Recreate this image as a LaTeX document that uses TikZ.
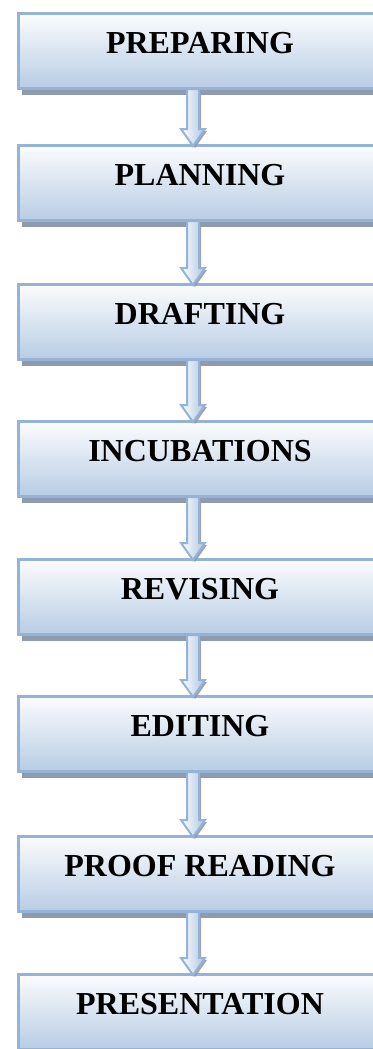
\documentclass[tikz,border=0pt]{standalone}
\usepackage{fontspec}
\setmainfont{Liberation Serif}
\usepackage{tikz}
\usetikzlibrary{calc}
\usetikzlibrary{shadows}

\definecolor{stageline}{HTML}{95B3D7}
\definecolor{stagetop}{HTML}{FBFCFD}
\definecolor{stagebottom}{HTML}{B8CCE4}
\definecolor{stageshadow}{HTML}{8E9AAE}
\definecolor{arrowright}{HTML}{ADC4E2}

\tikzset{
  stage/.style={draw=stageline, line width=3pt, top color=stagetop, bottom color=stagebottom,
    minimum width=363pt, minimum height=75pt, inner sep=0pt, text height=21pt, text depth=17pt,
    font=\fontsize{32}{36}\selectfont\bfseries,
    drop shadow={shadow xshift=3pt, shadow yshift=-6pt, fill=stageshadow, opacity=1}},
  flowarrow/.style={draw=stageline, line width=2pt, left color=white, right color=arrowright,
    line join=miter,
    drop shadow={shadow xshift=2pt, shadow yshift=-2pt, fill=stageshadow, opacity=0.9},
    to path={($(\tikztostart.south)+(-13,-1)$) -- ($(\tikztotarget.north)+(-13,-15)$)
      -- ($(\tikztotarget.north)+(-19,-15)$) -- ($(\tikztotarget.north)+(-7,2)$)
      -- ($(\tikztotarget.north)+(5,-15)$) -- ($(\tikztotarget.north)+(-1,-15)$)
      -- ($(\tikztostart.south)+(-1,-1)$) -- cycle}}
}

\begin{document}
\begin{tikzpicture}[x=1pt, y=-1pt]
                \useasboundingbox (0,0) rectangle (372,1049);
                \node[stage] (preparing) at (200,51) {PREPARING};
                \node[stage] (planning) at (200,183) {PLANNING};
                \node[stage] (drafting) at (200,322) {DRAFTING};
                \node[stage] (incubations) at (200,459) {INCUBATIONS};
                \node[stage] (revising) at (200,597) {REVISING};
                \node[stage] (editing) at (200,734) {EDITING};
                \node[stage] (proofreading) at (200,874) {PROOF READING};
                \node[stage] (presentation) at (200,1012) {PRESENTATION};
                \path[flowarrow] (preparing) to (planning);
                \path[flowarrow] (planning) to (drafting);
                \path[flowarrow] (drafting) to (incubations);
                \path[flowarrow] (incubations) to (revising);
                \path[flowarrow] (revising) to (editing);
                \path[flowarrow] (editing) to (proofreading);
                \path[flowarrow] (proofreading) to (presentation);
            \end{tikzpicture}
\end{document}
